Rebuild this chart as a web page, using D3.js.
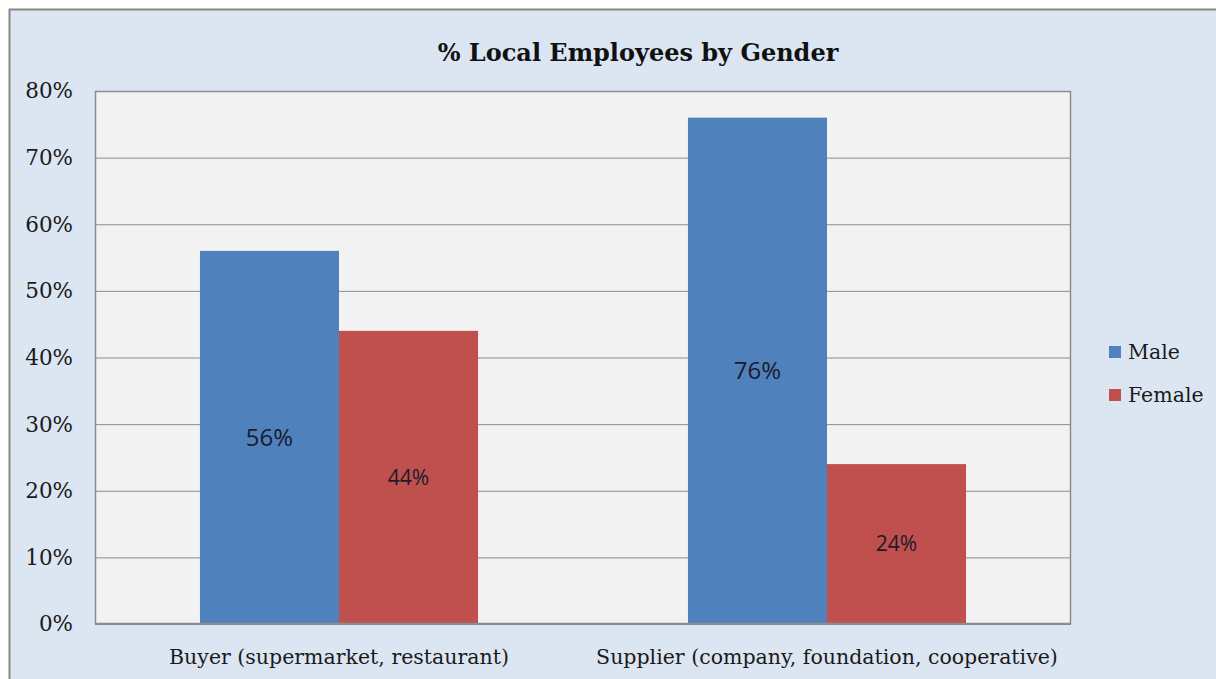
<!DOCTYPE html>
<html>
<head>
<meta charset="UTF-8">
<title>% Local Employees by Gender</title>
<style>
  body { margin: 0; background: #ffffff; }
  svg { display: block; }
</style>
</head>
<body>
<script src="https://cdn.jsdelivr.net/npm/d3@7/dist/d3.min.js"></script>
<script>

// Data
var categories = ["Buyer (supermarket, restaurant)", "Supplier (company, foundation, cooperative)"];
var seriesNames = ["Male", "Female"];
var maleValues = [56, 76];
var femaleValues = [44, 24];
var yTicks = [0, 10, 20, 30, 40, 50, 60, 70, 80];

var seriesValues = { "Male": maleValues, "Female": femaleValues };
var colors = { "Male": "#4f81bd", "Female": "#c0504d" };
var labelSize = { "Male": 24, "Female": 21 };

var W = 1216, H = 679;
var plot = { left: 95, top: 91, right: 1071, bottom: 624 };
var serif = "'DejaVu Serif', serif";
var sans = "'Open Sans', sans-serif";

var svg = d3.select("body").append("svg")
    .attr("width", W)
    .attr("height", H);

// Chart frame
svg.append("rect")
    .attr("x", 9.5).attr("y", 9.5)
    .attr("width", W + 20).attr("height", H + 20)
    .attr("fill", "#dce6f2")
    .attr("stroke", "#868686")
    .attr("stroke-width", 2);

// Plot area background
svg.append("rect")
    .attr("x", plot.left).attr("y", plot.top)
    .attr("width", plot.right - plot.left)
    .attr("height", plot.bottom - plot.top)
    .attr("fill", "#f2f2f2");

var y = d3.scaleLinear().domain([0, 80]).range([plot.bottom, plot.top]);
var x0 = d3.scaleBand().domain(categories).range([plot.left, plot.right]).padding(0);
var x1 = d3.scaleBand().domain(seriesNames).range([0, x0.bandwidth()])
    .paddingInner(0).paddingOuter(0.755);

// Gridlines + y labels
var yAxis = svg.append("g")
    .attr("transform", "translate(" + plot.left + ",0)")
    .call(d3.axisLeft(y).tickValues(yTicks)
        .tickSize(-(plot.right - plot.left))
        .tickPadding(22)
        .tickFormat(function(d) { return d + "%"; }));
yAxis.select(".domain").remove();
yAxis.selectAll(".tick line")
    .attr("stroke", "#8c8c8c")
    .attr("stroke-width", 1);
yAxis.selectAll(".tick text")
    .attr("font-family", serif)
    .attr("font-size", 21.5)
    .attr("fill", "#1a1a1a");

// Bars
var groups = svg.selectAll(".cat")
    .data(categories)
    .enter().append("g")
    .attr("class", "cat")
    .attr("transform", function(c) { return "translate(" + x0(c) + ",0)"; });

groups.selectAll("rect.bar")
    .data(function(c, i) {
        return seriesNames.map(function(s) { return { s: s, v: seriesValues[s][i] }; });
    })
    .enter().append("rect")
    .attr("class", "bar")
    .attr("x", function(d) { return x1(d.s); })
    .attr("width", x1.bandwidth())
    .attr("y", function(d) { return y(d.v); })
    .attr("height", function(d) { return y(0) - y(d.v); })
    .attr("fill", function(d) { return colors[d.s]; });

// Data labels, centered in bar
groups.selectAll("text.lbl")
    .data(function(c, i) {
        return seriesNames.map(function(s) { return { s: s, v: seriesValues[s][i] }; });
    })
    .enter().append("text")
    .attr("class", "lbl")
    .attr("x", function(d) { return x1(d.s) + x1.bandwidth() / 2; })
    .attr("y", function(d) { return (y(d.v) + y(0)) / 2; })
    .attr("dy", "0.35em")
    .attr("text-anchor", "middle")
    .attr("font-family", sans)
    .attr("font-size", function(d) { return labelSize[d.s]; })
    .attr("fill", "#1b1b2b")
    .text(function(d) { return d.v + "%"; });

// Plot border
svg.append("rect")
    .attr("x", plot.left + 0.5).attr("y", plot.top + 0.5)
    .attr("width", plot.right - plot.left - 1)
    .attr("height", plot.bottom - plot.top - 1)
    .attr("fill", "none")
    .attr("stroke", "#8c8c8c")
    .attr("stroke-width", 1.5);

// Category labels
svg.selectAll(".catlbl")
    .data(categories)
    .enter().append("text")
    .attr("class", "catlbl")
    .attr("x", function(c) { return x0(c) + x0.bandwidth() / 2; })
    .attr("y", 664)
    .attr("text-anchor", "middle")
    .attr("font-family", serif)
    .attr("font-size", 20.5)
    .attr("fill", "#1a1a1a")
    .text(function(c) { return c; });

// Title
svg.append("text")
    .attr("x", 638).attr("y", 61)
    .attr("text-anchor", "middle")
    .attr("font-family", serif)
    .attr("font-weight", "bold")
    .attr("font-size", 24)
    .attr("fill", "#111")
    .text("% Local Employees by Gender");

// Legend
var legend = svg.selectAll(".leg")
    .data(seriesNames)
    .enter().append("g")
    .attr("class", "leg")
    .attr("transform", function(d, i) { return "translate(1109," + (346 + i * 43) + ")"; });
legend.append("rect")
    .attr("width", 12).attr("height", 12)
    .attr("fill", function(d) { return colors[d]; });
legend.append("text")
    .attr("x", 19).attr("y", 6)
    .attr("dy", "0.35em")
    .attr("font-family", serif)
    .attr("font-size", 20.5)
    .attr("fill", "#1a1a1a")
    .text(function(d) { return d; });

</script>
</body>
</html>
